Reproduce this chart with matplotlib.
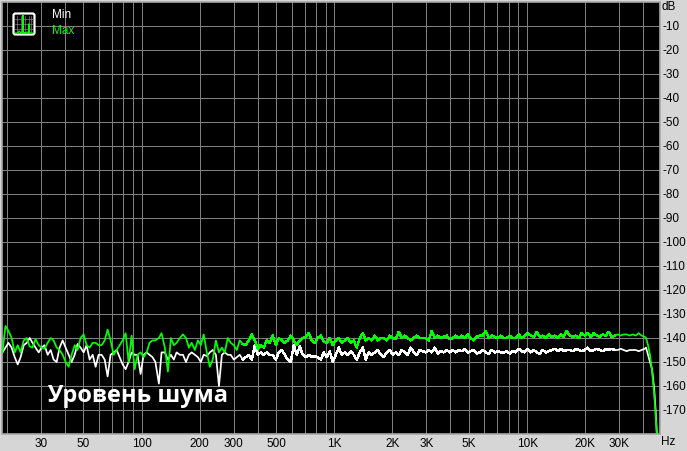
import matplotlib
matplotlib.use("Agg")
import matplotlib.pyplot as plt
from matplotlib.patches import FancyBboxPatch

#frequency points in Hz
freq = [
    19.0, 19.7, 20.4, 21.2, 22.0, 22.8, 23.6, 24.5, 25.4, 26.3,
    27.2, 28.2, 29.3, 30.3, 31.4, 32.6, 33.8, 35.0, 36.3, 37.6,
    39.0, 40.4, 41.9, 43.4, 45.0, 46.6, 48.3, 50.1, 51.9, 53.8,
    55.8, 57.8, 59.9, 62.1, 64.4, 66.7, 69.1, 71.7, 74.3, 77.0,
    79.8, 82.7, 85.7, 88.8, 92.1, 95.4, 98.9, 102.5, 106.3, 110,
    114, 118, 123, 127, 132, 137, 142, 147, 152, 158,
    164, 170, 176, 182, 189, 196, 203, 210, 218, 226,
    234, 243, 252, 261, 270, 280, 290, 301, 312, 323,
    335, 347, 360, 373, 387, 401, 415, 430, 446, 462,
    479, 497, 515, 533, 553, 573, 594, 616, 638, 661,
    685, 710, 736, 763, 791, 820, 850, 881, 913, 946,
    981, 1017, 1054, 1092, 1132, 1173, 1216, 1260, 1306, 1354,
    1403, 1454, 1507, 1562, 1619, 1678, 1739, 1803, 1868, 1937,
    2007, 2080, 2156, 2235, 2316, 2401, 2488, 2579, 2673, 2770,
    2871, 2976, 3085, 3197, 3314, 3434, 3560, 3689, 3824, 3963,
    4108, 4258, 4413, 4574, 4741, 4913, 5093, 5278, 5471, 5670,
    5877, 6091, 6313, 6543, 6782, 7029, 7285, 7551, 7826, 8112,
    8407, 8714, 9032, 9361, 9702, 10056, 10422, 10802, 11196, 11604,
    12027, 12465, 12920, 13391, 13879, 14385, 14909, 15453, 16016, 16600,
    17205, 17832, 18482, 19156, 19855, 20578, 21328, 22106, 22912, 23747,
    24612, 25509, 26439, 27403, 28402, 29437, 30510, 31622, 32775, 33970,
    35208, 36491, 37822, 39200, 40630, 41300, 42300, 43300, 44400, 45500,
    46300, 47000,
]

#max level, dB
level_max = [
    -146, -135, -137, -140, -146, -143, -146, -141, -140, -143.5,
    -144, -140.5, -143, -144, -144.5, -142, -140, -141, -144, -145,
    -147, -150, -152, -147, -143, -145, -140, -138.5, -143, -144,
    -142, -142, -143, -143, -141, -136.5, -141, -147, -145, -143,
    -141, -138, -150, -139, -153, -147, -146, -148, -146, -142,
    -141, -141, -140, -138, -144, -154, -140, -143, -142, -140,
    -138.5, -140, -144, -142, -145, -141, -143, -138.5, -146, -152,
    -149, -141, -146, -144, -146, -140, -142, -143, -145, -141,
    -142.5, -143, -141, -138.5, -141, -144.5, -143, -144, -141, -142,
    -139, -143, -140, -141, -142, -141, -139, -141, -143, -141,
    -140, -139.5, -138, -141, -142, -140, -139, -141.5, -142, -140,
    -143, -141, -140, -142, -141, -140, -142, -141, -144, -140,
    -138, -141, -140, -141, -139, -141, -140, -140, -141, -139,
    -140, -140.5, -137.5, -140, -139, -140, -141, -140, -139, -140,
    -140, -140, -141, -137, -140, -139, -140, -139.5, -139, -140.5,
    -140, -139, -140, -139, -140, -138.5, -140, -141, -139.5, -139,
    -139, -137, -140, -139, -139.5, -140, -139, -140, -140, -139,
    -140, -140, -138.5, -140, -139, -138, -139, -139.5, -137.5, -139.5,
    -139, -140, -138.5, -139.5, -139, -140, -138.5, -139.5, -137, -139,
    -139.5, -139, -140, -138, -139, -138, -139.5, -138, -139, -139.5,
    -138.5, -139, -137.5, -139.5, -139, -138.5, -139, -138.5, -138.5, -139,
    -138.5, -139, -138, -139, -139.5, -140, -143, -147, -154, -163,
    -172, -180,
]

#min level, dB
level_min = [
    -146, -144, -142, -144, -148, -151, -148, -143, -142, -140,
    -142, -144, -146, -144, -143, -147, -145, -149, -150, -144,
    -141, -144, -147, -150, -147, -142.5, -144, -146, -143, -149,
    -147, -152, -147, -147, -149, -156, -147, -146, -145, -148,
    -151, -153, -150, -146, -147, -147, -155, -147, -146, -147,
    -148, -150, -159, -146, -146, -149, -147, -149, -146, -147,
    -147, -150, -147, -146, -147, -148, -150, -147, -147.5, -146,
    -145, -147, -160, -147, -146, -147, -147, -149, -148, -147,
    -149, -148, -147, -149, -143, -147, -146, -147, -146, -147,
    -147, -149, -146, -145, -147, -149, -150, -143, -147, -143.5,
    -147, -148, -147, -148, -147.5, -148, -149, -146, -148, -145.5,
    -150, -147, -144, -147, -146, -147, -145.5, -147, -149, -146,
    -144, -149, -146, -147, -146, -145, -147, -148, -146, -145,
    -147, -146, -147, -145, -146, -147, -144, -146, -147, -145,
    -145.5, -146, -145, -146, -144, -146.5, -145.5, -146, -145, -146,
    -145, -146, -145, -145.5, -144.5, -146, -145.5, -145, -146.5, -146,
    -145, -146, -146.5, -145, -146, -145.5, -146, -146, -145.5, -146.5,
    -145.5, -146, -144.5, -145.5, -146, -144.5, -146, -145, -146, -146.5,
    -145, -146, -145.5, -145, -144.5, -145.5, -144.5, -145.5, -145, -145,
    -145.5, -144.5, -145, -145.5, -145, -144, -145.5, -145, -144.5, -145,
    -145.5, -144.5, -145, -144.5, -145, -145, -144.5, -145, -145.5, -145,
    -145, -145, -145.5, -145, -144.5, -144, -147, -150, -153, -161,
    -170, -180,
]

#grid lines and axis labels
freq_grid = [20, 30, 40, 50, 60, 70, 80, 90, 100, 200, 300, 400, 500, 600, 700, 800, 900,
             1000, 2000, 3000, 4000, 5000, 6000, 7000, 8000, 9000,
             10000, 20000, 30000, 40000]
freq_labels = {30: "30", 50: "50", 100: "100", 200: "200", 300: "300", 500: "500", 1000: "1K",
               2000: "2K", 3000: "3K", 5000: "5K", 10000: "10K", 20000: "20K", 30000: "30K"}
db_ticks = list(range(-170, 0, 10))

W, H = 687, 451
GREEN = "#00ff00"
GRID = "#808080"
PANEL = "#d6d6d6"
SHARP_FROM = 80  #curve is drawn without smoothing from about 330 Hz up
ROLLOFF = 204  #smooth again on the falling end

plt.rcParams["font.family"] = ["Liberation Sans", "DejaVu Sans"]

fig = plt.figure(figsize=(W / 100, H / 100), dpi=100, facecolor=PANEL)
ax = fig.add_axes([2 / W, 1 - 434 / H, 658 / W, 432 / H], facecolor="black")

ax.set_xscale("log")
ax.set_xlim(18.9, 48800)
ax.set_ylim(-180, 0)

#grid
ax.set_xticks(freq_grid)
ax.set_xticklabels([freq_labels.get(f, "") for f in freq_grid], fontsize=8.5, color="black")
ax.minorticks_off()
ax.yaxis.tick_right()
ax.set_yticks(db_ticks)
ax.set_yticklabels([str(d) for d in db_ticks], fontsize=8.5, color="black")
ax.tick_params(axis="both", length=0)
ax.tick_params(axis="x", pad=3)
ax.tick_params(axis="y", pad=1.5)
ax.grid(True, color=GRID, linewidth=0.72, antialiased=False)
ax.set_axisbelow(True)
for s in ax.spines.values():
    s.set_color("#a8a8a8")
    s.set_linewidth(1.2)

#curves
for level, col, z in [(level_min, "white", 3), (level_max, GREEN, 4)]:
    ax.plot(freq[:SHARP_FROM + 1], level[:SHARP_FROM + 1], color=col, linewidth=1.25, zorder=z)
    ax.plot(freq[SHARP_FROM:ROLLOFF + 1], level[SHARP_FROM:ROLLOFF + 1], color=col, linewidth=1.0,
            antialiased=False, zorder=z)
    ax.plot(freq[ROLLOFF:], level[ROLLOFF:], color=col, linewidth=1.25, zorder=z)

#unit labels
fig.text(662 / W, 1 - 7 / H, "dB", fontsize=8.5, color="black", va="center")
fig.text(661 / W, 1 - 442 / H, "Hz", fontsize=8.5, color="black", va="center")

#legend
fig.text(52 / W, 1 - 15 / H, "Min", fontsize=8.5, color="white", va="center")
fig.text(52 / W, 1 - 31 / H, "Max", fontsize=8.5, color=GREEN, va="center")

#legend icon
icon = fig.add_axes([12 / W, 1 - 36 / H, 24 / W, 24 / H])
icon.set_xlim(0, 24)
icon.set_ylim(0, 24)
icon.axis("off")
icon.add_patch(FancyBboxPatch((1.5, 1.5), 21, 21, boxstyle="round,pad=0,rounding_size=2",
                              facecolor="black", edgecolor="white", linewidth=1.6))
for p in [5, 9, 13, 17, 19]:
    icon.plot([p, p], [3, 20], color=GRID, linewidth=0.5)
for p in [7, 12, 17]:
    icon.plot([3, 21], [p, p], color=GRID, linewidth=0.5)
icon.plot([3, 6, 7, 9, 10, 11, 11, 11, 13, 15, 17, 17, 17, 19, 21],
          [3, 3, 5, 3, 4, 4, 21, 4, 3, 4, 3, 12, 3, 3, 3], color=GREEN, linewidth=0.9)

#caption
fig.text(47 / W, 1 - 396 / H, "Уровень шума", fontsize=17, fontweight="bold",
         family="Open Sans", color="white", va="center")

fig.savefig("out.png", dpi=100, facecolor=PANEL)
